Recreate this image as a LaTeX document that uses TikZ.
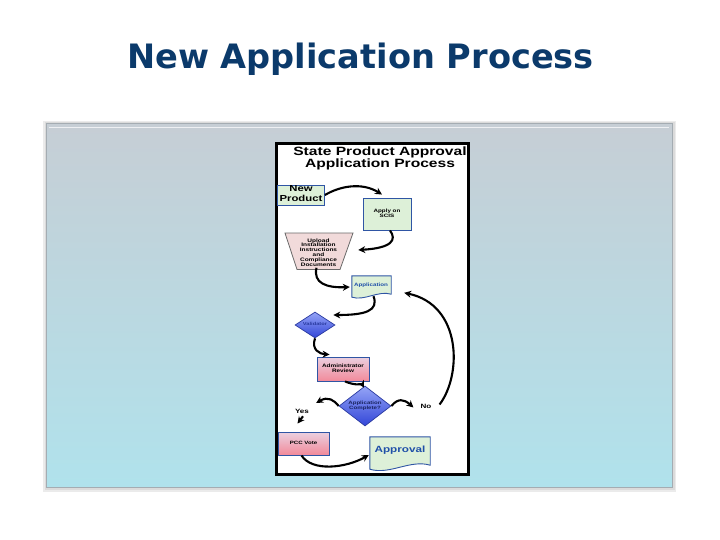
\documentclass[tikz,border=0pt]{standalone}
\usepackage{fontspec}
\setmainfont{Liberation Sans}
\newfontfamily\titlefont{DejaVu Sans}
\usetikzlibrary{arrows.meta,shapes.geometric}
\definecolor{titleblue}{HTML}{0B3A6B}
\definecolor{paneltop}{HTML}{C6CED5}
\definecolor{panelbot}{HTML}{B0E2EC}
\definecolor{panelline}{HTML}{A4ACB2}
\definecolor{boxgreen}{HTML}{DDF0D8}
\definecolor{boxblue}{HTML}{2F55A4}
\definecolor{textblue}{HTML}{1F4FA8}
\definecolor{pinktop}{HTML}{EAD0E0}
\definecolor{pinkbot}{HTML}{F28A9A}
\definecolor{diamtop}{HTML}{95A4F6}
\definecolor{diambot}{HTML}{3246D8}
\definecolor{diamline}{HTML}{2A3AA0}
\definecolor{trapfill}{HTML}{F1DADA}
\definecolor{trapline}{HTML}{6A6A6A}
\newcommand\sx[2]{{\fontsize{#1}{#1}\selectfont\bfseries\scalebox{1.3}[1]{\begin{tabular}{@{}c@{}}#2\end{tabular}}}}
\tikzset{
  greenbox/.style={draw=boxblue, line width=0.9pt, fill=boxgreen, inner sep=0pt},
  pinkbox/.style={draw=boxblue, line width=0.9pt, top color=pinktop, bottom color=pinkbot, inner sep=0pt},
  diam/.style={diamond, draw=diamline, line width=0.7pt, top color=diamtop, bottom color=diambot, inner sep=0pt},
  plain/.style={inner sep=0pt},
  conn/.style={draw=black, line width=2.1pt, -{Stealth[length=7pt,width=7pt]}},
  doc/.style={draw=boxblue, line width=0.9pt, fill=boxgreen},
}
\begin{document}
\begin{tikzpicture}[x=1pt,y=-1pt]
\useasboundingbox (0,0) rectangle (720,540);
\fill[white] (0,0) rectangle (720,540);
% title
\node[plain, anchor=base, text=titleblue, font=\titlefont\bfseries\fontsize{33.6}{40}\selectfont] (title) at (360.5,69) {New Application Process};
% panel with soft shadow
\fill[black!8] (43,121) rectangle (676,492);
\fill[black!14] (44.5,122.5) rectangle (674.5,490);
\shade[top color=paneltop, bottom color=panelbot] (46,124) rectangle (672,487);
\draw[panelline, line width=1pt] (46,124) rectangle (672,487);
\draw[white!70!paneltop, line width=0.8pt] (49,127.5) -- (669,127.5);
% inner chart frame
\draw[black, line width=3pt, fill=white] (276.5,143.5) rectangle (468.5,474.5);
\node[plain] (ct1) at (380,153) {\sx{12}{State Product Approval}};
\node[plain] (ct2) at (380,165) {\sx{12}{Application Process}};
% nodes
\node[greenbox, minimum width=47pt, minimum height=20pt] (np) at (301,195) {\sx{8.7}{New\\[1pt]Product}};
\node[greenbox, minimum width=48pt, minimum height=32pt] (scis) at (387,214) {\sx{4.8}{Apply on\\SCIS}};
\draw[draw=trapline, line width=0.8pt, fill=trapfill] (285,233) -- (353,233) -- (340,269.5) -- (297,269.5) -- cycle;
\node[plain] (up) at (318.5,253) {\renewcommand\arraystretch{0.85}\sx{5}{Upload\\Installation\\Instructions\\and\\Compliance\\Documents}};
% Application document
\node[plain, minimum width=39pt, minimum height=20pt] (app) at (371.5,286) {};
\draw[doc] (app.north west) -- (app.north east) -- ([yshift=2pt]app.south east)
  .. controls ([xshift=-13pt,yshift=6pt]app.south east) and ([xshift=13pt,yshift=-5pt]app.south west) .. ([yshift=-1pt]app.south west) -- cycle;
\node[plain, text=textblue] (apptxt) at (371,285) {\sx{4.8}{Application}};
% Validator
\node[diam, minimum width=40pt, minimum height=26pt] (val) at (315,325) {};
\node[plain, text=diamline] (valtxt) at (315,325) {\sx{4.4}{Validator}};
% Administrator Review
\node[pinkbox, minimum width=52pt, minimum height=24pt] (adm) at (343,369) {\sx{4.9}{Administrator\\Review}};
% Application Complete?
\node[diam, minimum width=52pt, minimum height=40pt] (ac) at (365,406) {};
\node[plain, text=diamline!60!black] (actxt) at (365,406) {\sx{4.7}{Application\\Complete?}};
% Yes / No
\node[plain] (yes) at (302,412) {\sx{6.2}{Yes}};
\node[plain] (no) at (426,407.5) {\sx{6.2}{No}};
% PCC Vote
\node[pinkbox, minimum width=51pt, minimum height=23pt] (pcc) at (303.5,443.5) {\sx{4.7}{PCC Vote}};
% Approval document
\node[plain, minimum width=60pt, minimum height=31pt] (apr) at (400,452.5) {};
\draw[doc] (apr.north west) -- (apr.north east) -- ([yshift=3pt]apr.south east)
  .. controls ([xshift=-20pt,yshift=9pt]apr.south east) and ([xshift=20pt,yshift=-7pt]apr.south west) .. ([yshift=-1pt]apr.south west) -- cycle;
\node[plain, text=textblue] (aprtxt) at (400,451) {\sx{9}{Approval}};
% connectors
\draw[conn] (np.east) .. controls (340,186) and (362,182) .. ([xshift=-5pt,yshift=3pt]scis.north);
\draw[conn] ([xshift=3pt]scis.south) .. controls (397,240) and (392,248) .. ([xshift=21pt,yshift=3pt]up.east);
\draw[conn] ([xshift=-2pt]up.south) .. controls (313,283) and (326,288) .. ([xshift=-2pt,yshift=-1pt]app.west);
\draw[conn] ([xshift=2pt]app.south) .. controls (379,311) and (365,315) .. ([xshift=-2pt,yshift=10pt]val.east);
\draw[conn] (val.south) .. controls (311,350) and (320,354) .. ([xshift=13pt,yshift=2pt]adm.north west);
\draw[conn] ([xshift=2pt]adm.south) .. controls (356,386) and (362,384) .. ([xshift=-1pt,yshift=-2pt]ac.north);
\draw[conn] (ac.west) .. controls (334,400) and (328,396) .. ([xshift=7pt,yshift=9pt]yes.east);
\draw[conn] ([xshift=1pt,yshift=-1pt]yes.south) -- ([xshift=-6pt,yshift=8pt]pcc.north);
\draw[conn] (ac.east) .. controls (398,398) and (404,399) .. ([xshift=-7pt]no.west);
\draw[conn] ([xshift=8pt,yshift=3pt]no.east) .. controls (462,375) and (462,305) .. ([xshift=13pt,yshift=-17pt]app.north east);
\draw[conn] ([xshift=-2pt]pcc.south) .. controls (312,472) and (346,468) .. ([xshift=-1pt,yshift=-2.5pt]apr.west);
\end{tikzpicture}
\end{document}
